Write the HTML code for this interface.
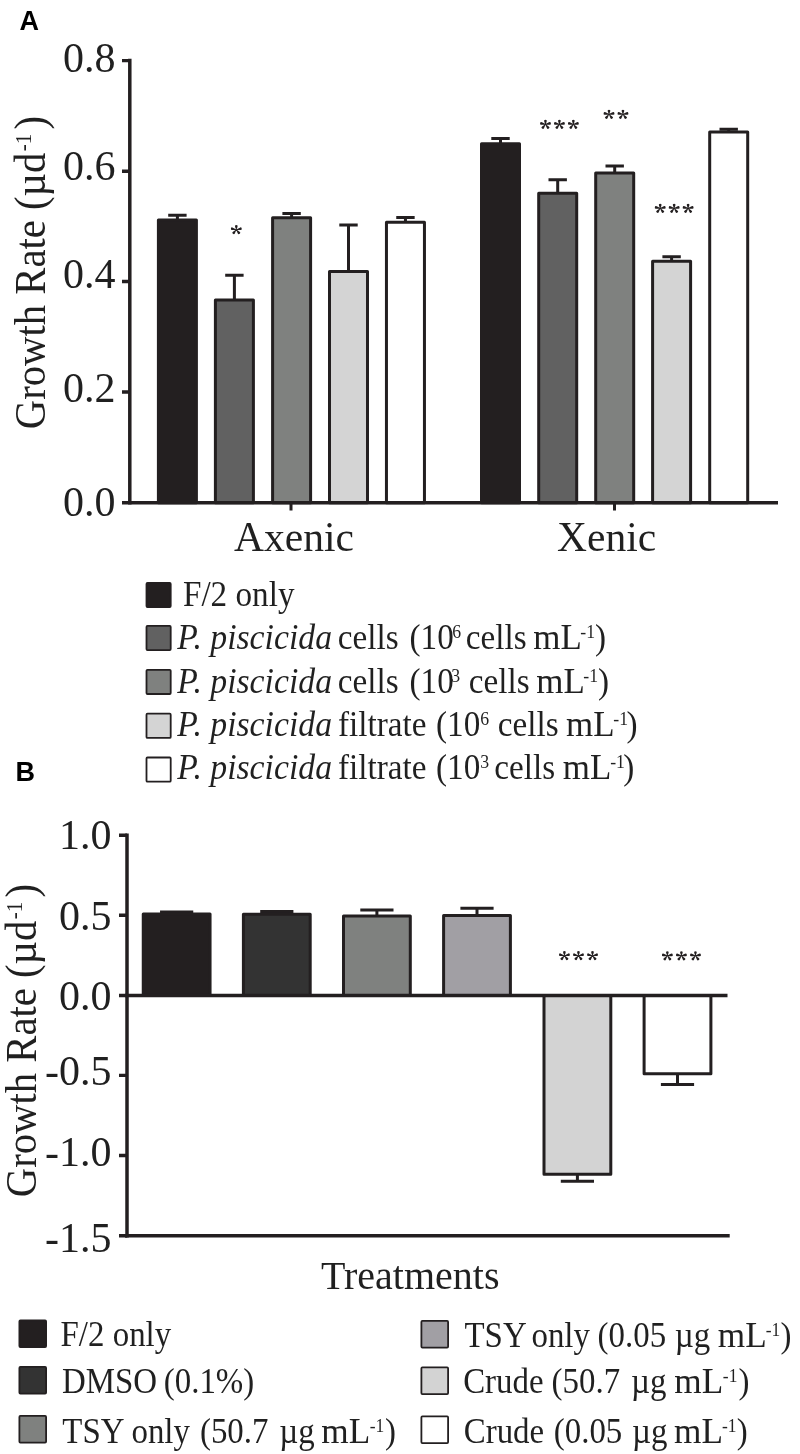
<!DOCTYPE html>
<html><head><meta charset="utf-8"><style>
html,body{margin:0;padding:0;background:#fff;width:800px;height:1454px;overflow:hidden}
svg{display:block}
text{font-family:"Liberation Serif",serif;fill:#231f20;filter:grayscale(1)}
.ax{stroke:#231f20;stroke-linecap:butt;fill:none}
.bar{stroke:#231f20;stroke-width:3;stroke-linejoin:round}
.eb{stroke:#231f20;stroke-width:3;fill:none}
.lb{stroke:#231f20;stroke-width:1.8;stroke-linejoin:round}
.tl{font-size:42px;text-anchor:end}
.st{font-size:28px}
.pl{font-family:"Liberation Sans",sans-serif;font-weight:bold;font-size:27px;fill:#000}
</style></head><body>
<svg width="800" height="1454" viewBox="0 0 800 1454">
<defs><path id="ast" fill="#231f20" d="M0.18 0.00L1.19 -2.67A1.3 1.3 0 1 0 -1.19 -2.67L-0.18 -0.00ZM0.04 -0.18L-3.46 -1.95A1.3 1.3 0 1 0 -3.95 0.47L-0.04 0.18ZM0.03 0.18L4.00 0.47A1.3 1.3 0 1 0 3.52 -1.96L-0.03 -0.18ZM-0.14 -0.11L-3.30 2.13A1.3 1.3 0 1 0 -1.38 3.68L0.14 0.11ZM-0.14 0.11L1.38 3.68A1.3 1.3 0 1 0 3.30 2.13L0.14 -0.11Z"/></defs>
<text class="pl" x="19.6" y="30.2">A</text>
<g transform="translate(44.7,429.2) rotate(-90) scale(0.925,1)"><text x="0" y="0" font-size="44">Growth Rate (µd<tspan font-size="23" dx="1.5" dy="-14">-1</tspan><tspan dx="4.2" dy="14">)</tspan></text></g>
<text class="tl" x="115.5" y="71.6">0.8</text>
<text class="tl" x="115.5" y="180">0.6</text>
<text class="tl" x="115.5" y="288">0.4</text>
<text class="tl" x="115.5" y="401.5">0.2</text>
<text class="tl" x="115.5" y="516">0.0</text>
<g class="eb">
<path d="M168.20 215.3H186.60M177.4 215.3V220.5"/>
<path d="M225.20 275.3H243.60M234.4 275.3V300.4"/>
<path d="M282.40 213.4H300.80M291.6 213.4V218.25"/>
<path d="M339.30 225.0H357.70M348.5 225.0V272.1"/>
<path d="M396.25 217.4H414.65M405.45 217.4V222.75"/>
<path d="M491.30 138.4H509.70M500.5 138.4V144.25"/>
<path d="M548.50 179.8H566.90M557.7 179.8V193.65"/>
<path d="M605.50 166.0H623.90M614.7 166.0V173.6"/>
<path d="M662.40 256.7H680.80M671.6 256.7V261.8"/>
<path d="M719.50 129.2H737.90M728.7 129.2V132.4"/>
</g><g class="bar">
<rect x="158.40" y="220.00" width="38" height="282.70" fill="#231f20"/>
<rect x="215.40" y="299.90" width="38" height="202.80" fill="#616161"/>
<rect x="272.60" y="217.75" width="38" height="284.95" fill="#7f817f"/>
<rect x="329.50" y="271.60" width="38" height="231.10" fill="#d4d4d4"/>
<rect x="386.45" y="222.25" width="38" height="280.45" fill="#ffffff"/>
<rect x="481.50" y="143.75" width="38" height="358.95" fill="#231f20"/>
<rect x="538.70" y="193.15" width="38" height="309.55" fill="#616161"/>
<rect x="595.70" y="173.10" width="38" height="329.60" fill="#7f817f"/>
<rect x="652.60" y="261.30" width="38" height="241.40" fill="#d4d4d4"/>
<rect x="709.70" y="131.90" width="38" height="370.80" fill="#ffffff"/>
</g>
<path class="ax" stroke-width="3.5" d="M129.8 58.8V504.4"/>
<path class="ax" stroke-width="3.4" d="M122 60.6H130M122 171.2H130M122 281.5H130M122 392H130"/>
<path class="ax" stroke-width="3.4" d="M122 502.7H778"/>
<path class="ax" stroke-width="3" d="M291 502.7V510.5M614.5 502.7V510.5"/>
<use href="#ast" x="236.30" y="229.6"/>
<use href="#ast" x="545.45" y="124.3"/>
<use href="#ast" x="559.40" y="124.3"/>
<use href="#ast" x="573.35" y="124.3"/>
<use href="#ast" x="609.00" y="114.25"/>
<use href="#ast" x="622.95" y="114.25"/>
<use href="#ast" x="660.20" y="208.3"/>
<use href="#ast" x="674.15" y="208.3"/>
<use href="#ast" x="688.10" y="208.3"/>
<text x="234" y="550.8" font-size="41.5">Axenic</text>
<text x="557" y="550.7" font-size="41.5">Xenic</text>
<g class="lb">
<rect x="146.5" y="582.90" width="24.2" height="24.2" rx="1" fill="#231f20"/>
<rect x="146.5" y="625.90" width="24.2" height="24.2" rx="1" fill="#616161"/>
<rect x="146.5" y="669.80" width="24.2" height="24.2" rx="1" fill="#7f817f"/>
<rect x="146.5" y="713.70" width="24.2" height="24.2" rx="1" fill="#d4d4d4"/>
<rect x="146.5" y="757.50" width="24.2" height="24.2" rx="1" fill="#ffffff"/>
</g>
<text transform="translate(182.94,605.9) scale(0.935,1)" font-size="35.5">F/2 only</text>
<text transform="translate(177.18,648.75) scale(0.95,1)" font-size="35.5" font-style="italic">P. piscicida</text>
<text transform="translate(337.74,648.75) scale(0.935,1)" font-size="35.5">cells</text>
<text transform="translate(409.54,648.75) scale(0.935,1)" font-size="35.5">(10</text>
<text transform="translate(452.14,637.75) scale(0.935,1)" font-size="19">6</text>
<text transform="translate(465.74,648.75) scale(0.935,1)" font-size="35.5">cells</text>
<text transform="translate(533.27,648.75) scale(0.985,1)" font-size="35.5">mL</text>
<text transform="translate(580.34,637.75) scale(0.935,1)" font-size="19">-1</text>
<text transform="translate(594.93,648.75) scale(0.935,1)" font-size="35.5">)</text>
<text transform="translate(177.18,692.6) scale(0.95,1)" font-size="35.5" font-style="italic">P. piscicida</text>
<text transform="translate(337.74,692.6) scale(0.935,1)" font-size="35.5">cells</text>
<text transform="translate(409.54,692.6) scale(0.935,1)" font-size="35.5">(10</text>
<text transform="translate(451.15,681.6) scale(0.935,1)" font-size="19">3</text>
<text transform="translate(468.74,692.6) scale(0.935,1)" font-size="35.5">cells</text>
<text transform="translate(536.27,692.6) scale(0.985,1)" font-size="35.5">mL</text>
<text transform="translate(583.34,681.6) scale(0.935,1)" font-size="19">-1</text>
<text transform="translate(597.93,692.6) scale(0.935,1)" font-size="35.5">)</text>
<text transform="translate(177.18,736.0) scale(0.95,1)" font-size="35.5" font-style="italic">P. piscicida</text>
<text transform="translate(337.98,736.0) scale(0.935,1)" font-size="35.5">filtrate</text>
<text transform="translate(436.04,736.0) scale(0.935,1)" font-size="35.5">(10</text>
<text transform="translate(480.24,725.0) scale(0.935,1)" font-size="19">6</text>
<text transform="translate(497.74,736.0) scale(0.935,1)" font-size="35.5">cells</text>
<text transform="translate(566.07,736.0) scale(0.985,1)" font-size="35.5">mL</text>
<text transform="translate(613.34,725.0) scale(0.935,1)" font-size="19">-1</text>
<text transform="translate(626.53,736.0) scale(0.935,1)" font-size="35.5">)</text>
<text transform="translate(177.18,779.4) scale(0.95,1)" font-size="35.5" font-style="italic">P. piscicida</text>
<text transform="translate(337.98,779.4) scale(0.935,1)" font-size="35.5">filtrate</text>
<text transform="translate(436.04,779.4) scale(0.935,1)" font-size="35.5">(10</text>
<text transform="translate(480.15,768.4) scale(0.935,1)" font-size="19">3</text>
<text transform="translate(494.24,779.4) scale(0.935,1)" font-size="35.5">cells</text>
<text transform="translate(562.77,779.4) scale(0.985,1)" font-size="35.5">mL</text>
<text transform="translate(610.14,768.4) scale(0.935,1)" font-size="19">-1</text>
<text transform="translate(623.23,779.4) scale(0.935,1)" font-size="35.5">)</text>
<text class="pl" x="15.6" y="780.8">B</text>
<g transform="translate(36,1197.2) rotate(-90) scale(0.925,1)"><text x="0" y="0" font-size="44">Growth Rate (µd<tspan font-size="23" dx="1.5" dy="-14">-1</tspan><tspan dx="4.2" dy="14">)</tspan></text></g>
<text class="tl" x="111.4" y="848.5">1.0</text>
<text class="tl" x="111.4" y="930">0.5</text>
<text class="tl" x="111.4" y="1009.75">0.0</text>
<text class="tl" x="111.4" y="1085">-0.5</text>
<text class="tl" x="111.4" y="1165.5">-1.0</text>
<text class="tl" x="111.4" y="1251.7">-1.5</text>
<g class="eb">
<path d="M160.05 912.0H193.25M176.65 912.0V914.5"/>
<path d="M260.20 911.5H293.40M276.8 911.5V914.8"/>
<path d="M360.30 909.9H393.50M376.9 909.9V916.5"/>
<path d="M460.40 908.3H493.60M477.0 908.3V916.0"/>
<path d="M560.80 1181.2H594.00M577.4 1181.2V1173.8"/>
<path d="M660.90 1084.5H694.10M677.5 1084.5V1073.3"/>
</g><g class="bar">
<rect x="143.25" y="914.00" width="66.8" height="81.50" fill="#231f20"/>
<rect x="243.40" y="914.30" width="66.8" height="81.20" fill="#333333"/>
<rect x="343.50" y="916.00" width="66.8" height="79.50" fill="#7f817f"/>
<rect x="443.60" y="915.50" width="66.8" height="80.00" fill="#a19fa4"/>
<rect x="544.00" y="995.5" width="66.8" height="178.80" fill="#d3d3d3"/>
<rect x="644.10" y="995.5" width="66.8" height="78.30" fill="#ffffff"/>
</g>
<path class="ax" stroke-width="3.5" d="M127 833.5V1237.5"/>
<path class="ax" stroke-width="3.4" d="M119 835.25H127M119 915.3H127M119 995.5H127M119 1075.4H127M119 1155.45H127M119 1235.7H127"/>
<path class="ax" stroke-width="3.4" d="M125 995.5H727.5"/>
<path class="ax" stroke-width="3.4" d="M125 1235.8H729.7"/>
<use href="#ast" x="564.40" y="955.6"/>
<use href="#ast" x="578.45" y="955.6"/>
<use href="#ast" x="592.50" y="955.6"/>
<use href="#ast" x="667.35" y="955.75"/>
<use href="#ast" x="681.40" y="955.75"/>
<use href="#ast" x="695.45" y="955.75"/>
<text x="321" y="1288.5" font-size="40">Treatments</text>
<g class="lb">
<rect x="19.4" y="1320.40" width="26.7" height="26.7" rx="1" fill="#231f20"/>
<rect x="19.4" y="1366.90" width="26.7" height="26.7" rx="1" fill="#333333"/>
<rect x="19.4" y="1415.90" width="26.7" height="26.7" rx="1" fill="#7f817f"/>
<rect x="421.4" y="1320.90" width="26.7" height="26.7" rx="1" fill="#a19fa4"/>
<rect x="421.4" y="1367.40" width="26.7" height="26.7" rx="1" fill="#d3d3d3"/>
<rect x="421.4" y="1416.40" width="26.7" height="26.7" rx="1" fill="#ffffff"/>
</g>
<text transform="translate(60.55,1346.2) scale(0.92,1)" font-size="35.8">F/2 only</text>
<text transform="translate(61.95,1392.5) scale(0.92,1)" font-size="35.8">DMSO</text>
<text transform="translate(163.75,1392.5) scale(0.92,1)" font-size="35.8">(0.1%)</text>
<text transform="translate(62.30,1442.5) scale(0.92,1)" font-size="35.8">TSY</text>
<text transform="translate(131.45,1442.5) scale(0.92,1)" font-size="35.8">only</text>
<text transform="translate(199.95,1442.5) scale(0.92,1)" font-size="35.8">(50.7</text>
<text transform="translate(279.24,1442.5) scale(0.92,1)" font-size="35.8">µg</text>
<text transform="translate(321.26,1442.5) scale(0.985,1)" font-size="35.8">mL</text>
<text transform="translate(369.75,1431.5) scale(0.92,1)" font-size="19">-1</text>
<text transform="translate(384.94,1442.5) scale(0.92,1)" font-size="35.8">)</text>
<text transform="translate(464.50,1347) scale(0.92,1)" font-size="35.8">TSY</text>
<text transform="translate(531.45,1347) scale(0.92,1)" font-size="35.8">only</text>
<text transform="translate(597.55,1347) scale(0.92,1)" font-size="35.8">(0.05</text>
<text transform="translate(674.74,1347) scale(0.92,1)" font-size="35.8">µg</text>
<text transform="translate(717.86,1347) scale(0.985,1)" font-size="35.8">mL</text>
<text transform="translate(765.65,1336) scale(0.92,1)" font-size="19">-1</text>
<text transform="translate(780.54,1347) scale(0.92,1)" font-size="35.8">)</text>
<text transform="translate(463.15,1392.5) scale(0.92,1)" font-size="35.8">Crude</text>
<text transform="translate(551.55,1392.5) scale(0.92,1)" font-size="35.8">(50.7</text>
<text transform="translate(630.94,1392.5) scale(0.92,1)" font-size="35.8">µg</text>
<text transform="translate(674.26,1392.5) scale(0.985,1)" font-size="35.8">mL</text>
<text transform="translate(722.85,1381.5) scale(0.92,1)" font-size="19">-1</text>
<text transform="translate(738.44,1392.5) scale(0.92,1)" font-size="35.8">)</text>
<text transform="translate(463.75,1442.5) scale(0.92,1)" font-size="35.8">Crude</text>
<text transform="translate(553.75,1442.5) scale(0.92,1)" font-size="35.8">(0.05</text>
<text transform="translate(631.94,1442.5) scale(0.92,1)" font-size="35.8">µg</text>
<text transform="translate(673.96,1442.5) scale(0.985,1)" font-size="35.8">mL</text>
<text transform="translate(721.95,1431.5) scale(0.92,1)" font-size="19">-1</text>
<text transform="translate(736.64,1442.5) scale(0.92,1)" font-size="35.8">)</text>
</svg>
</body></html>
